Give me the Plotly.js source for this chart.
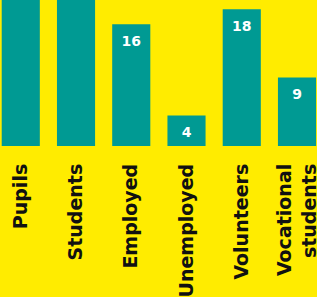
<!DOCTYPE html>
<html><head><meta charset="utf-8">
<script src="https://cdn.plot.ly/plotly-3.0.1.min.js"></script>
<style>html,body{margin:0;padding:0;background:#FFEC00;}#chart{width:317px;height:297px;}</style>
</head><body><div id="chart"></div>
<script>
const categories = ["Pupils", "Students", "Employed", "Unemployed", "Volunteers", "Vocational<br>students"];
const values = [34, 27, 16, 4, 18, 9];
const labels = values.map(v => String(v));
const data = [{
  type: 'bar',
  x: categories,
  y: values,
  marker: {color: '#009A93'},
  width: 0.69,
  cliponaxis: true,
  hoverinfo: 'none'
}, {
  type: 'scatter',
  mode: 'markers+text',
  x: categories,
  y: values,
  text: labels,
  textposition: 'bottom center',
  textfont: {family: 'DejaVu Sans', size: 14, color: '#ffffff', weight: 'bold'},
  marker: {size: 16, opacity: 0},
  cliponaxis: true,
  hoverinfo: 'none'
}];
const layout = {
  width: 317, height: 297,
  margin: {l: 0, r: 0, t: 0, b: 151, pad: 0},
  paper_bgcolor: '#FFEC00', plot_bgcolor: '#FFEC00',
  showlegend: false,
  xaxis: {type: 'category', range: [-0.376, 5.362], showgrid: false, showline: false, zeroline: false,
          ticks: '', tickangle: -90, ticklen: 0, ticklabelstandoff: 13,
          tickfont: {family: 'DejaVu Sans', size: 19, color: '#111111', weight: 'bold'}},
  yaxis: {range: [0, 19.2], visible: false, showgrid: false, zeroline: false}
};
Plotly.newPlot('chart', data, layout, {staticPlot: true, displayModeBar: false});
</script></body></html>
